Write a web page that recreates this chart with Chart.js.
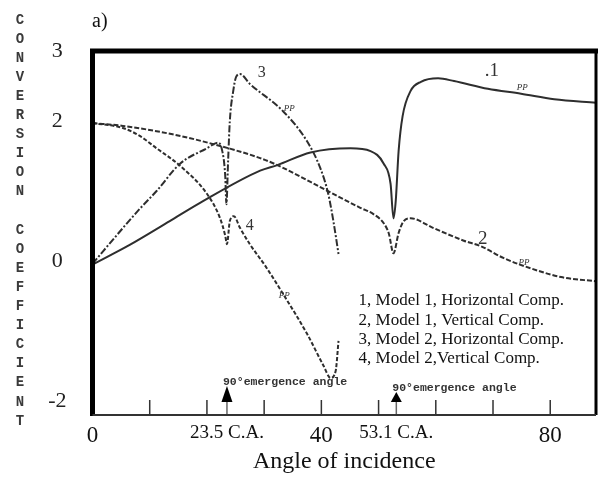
<!DOCTYPE html>
<html>
<head>
<meta charset="utf-8">
<script src="https://cdn.jsdelivr.net/npm/chart.js@4"></script>
<style>
  html, body { margin: 0; padding: 0; background: #fff; }
  #wrap { width: 598px; height: 483px; }
</style>
</head>
<body>
<div id="wrap"><canvas id="chart"></canvas></div>
<script>
// angle of incidence (deg) / conversion coefficient
const m1HorizAngle = [0, 6.5, 13.5, 18.8, 29.3, 32.3, 38.1, 45.1, 48.6, 50.9, 52.1, 52.6, 53.0, 53.5, 54.2, 55.6, 57.4, 60.4, 63.2, 69.1, 74.9, 80.7, 88];
const m1HorizCoef  = [-0.05, 0.23, 0.57, 0.83, 1.29, 1.37, 1.55, 1.61, 1.57, 1.39, 1.10, 0.61, 0.86, 1.57, 2.07, 2.43, 2.56, 2.61, 2.57, 2.46, 2.39, 2.31, 2.26];

const m1VertAngle = [0, 5.3, 14.0, 21.1, 29.3, 32.3, 41.1, 46.8, 49.1, 50.9, 51.8, 52.6, 53.5, 54.4, 55.6, 59.6, 64.9, 67.9, 71.9, 77.9, 81.9, 88];
const m1VertCoef  = [1.97, 1.93, 1.81, 1.67, 1.47, 1.37, 1.00, 0.76, 0.67, 0.54, 0.39, 0.11, 0.40, 0.57, 0.61, 0.47, 0.29, 0.21, 0.04, -0.14, -0.23, -0.29];

const m2HorizAngle = [0, 5.3, 8.2, 11.2, 15.3, 20.0, 21.9, 22.6, 23.2, 23.4, 23.7, 24.0, 24.6, 25.1, 25.8, 27.5, 33.3, 37.5, 39.8, 41.2, 42.1, 43.0];
const m2HorizCoef  = [-0.04, 0.47, 0.74, 1.00, 1.39, 1.61, 1.69, 1.60, 1.21, 0.81, 1.43, 2.00, 2.43, 2.63, 2.67, 2.53, 2.14, 1.71, 1.33, 0.96, 0.57, 0.10];

const m2VertAngle = [0, 5.3, 8.2, 11.2, 15.3, 20.0, 22.3, 23.2, 23.5, 24.0, 24.7, 25.8, 27.5, 30.2, 33.3, 37.5, 40.4, 41.6, 42.5, 43.0];
const m2VertCoef  = [1.97, 1.90, 1.79, 1.61, 1.36, 0.96, 0.61, 0.36, 0.24, 0.57, 0.64, 0.47, 0.24, -0.07, -0.47, -1.04, -1.50, -1.67, -1.57, -1.14];

const yTickValues = [-2, 0, 2, 3];
const xLabelValues = [0, 23.5, 40, 53.1, 80];
const xTickMarks = [10, 20, 30, 40, 50, 60, 70, 80];
const criticalAngles = [23.5, 53.1];
const legendLines = [
  '1, Model 1, Horizontal Comp.',
  '2, Model 1, Vertical Comp.',
  '3, Model 2, Horizontal Comp.',
  '4, Model 2,Vertical Comp.'
];
// curve tags: [angle, coefficient, text]
const curveTags = [[69.8, 2.71, '.1'], [29.6, 2.69, '3'], [27.5, 0.50, '4'], [68.2, 0.31, '2']];
const ppTags = [[75.1, 2.47], [34.4, 2.17], [33.5, -0.50], [75.4, -0.03]];

const SERIF = '"Liberation Serif", "DejaVu Serif", serif';
const INK = '#2e2e2e';

function pts(xs, ys) {
  return xs.map((v, i) => ({ x: v, y: ys[i] }));
}

function lineSet(label, xs, ys, dash) {
  return {
    label,
    data: pts(xs, ys),
    borderColor: INK,
    borderWidth: 2,
    borderDash: dash,
    pointRadius: 0,
    fill: false,
    cubicInterpolationMode: 'monotone'
  };
}

const decor = {
  id: 'decor',
  afterDraw(chart) {
    const { ctx, chartArea: a, scales: { x, y } } = chart;
    ctx.save();

    // small tick marks standing up from the bottom axis
    ctx.strokeStyle = '#333';
    ctx.lineWidth = 1.5;
    xTickMarks.forEach(v => {
      const px = x.getPixelForValue(v);
      ctx.beginPath();
      ctx.moveTo(px, a.bottom);
      ctx.lineTo(px, a.bottom - 15);
      ctx.stroke();
    });

    // arrows at the critical angles + "90° emergence angle" labels
    criticalAngles.forEach((v, i) => {
      const px = x.getPixelForValue(v);
      ctx.strokeStyle = '#666';
      ctx.lineWidth = 1.5;
      ctx.beginPath();
      ctx.moveTo(px, a.bottom);
      ctx.lineTo(px, a.bottom - 14);
      ctx.stroke();
      ctx.fillStyle = '#000';
      ctx.beginPath();
      ctx.moveTo(px, a.bottom - (i ? 23 : 29));
      ctx.lineTo(px - 5.5, a.bottom - 13);
      ctx.lineTo(px + 5.5, a.bottom - 13);
      ctx.closePath();
      ctx.fill();

      ctx.fillStyle = '#333';
      ctx.font = 'bold 11.5px "Liberation Mono", monospace';
      ctx.textBaseline = 'middle';
      ctx.textAlign = 'left';
      ctx.fillText('90°emergence angle', px - 4, a.bottom - (i ? 27 : 33));
    });

    // frame: heavy top / left, lighter right / bottom
    ctx.strokeStyle = '#000';
    ctx.lineWidth = 5;
    ctx.beginPath();
    ctx.moveTo(a.left - 2.5, a.top);
    ctx.lineTo(a.right + 2, a.top);
    ctx.moveTo(a.left, a.top);
    ctx.lineTo(a.left, a.bottom + 1);
    ctx.stroke();
    ctx.lineWidth = 3;
    ctx.beginPath();
    ctx.moveTo(a.right, a.top);
    ctx.lineTo(a.right, a.bottom);
    ctx.stroke();
    ctx.strokeStyle = '#333';
    ctx.lineWidth = 2;
    ctx.beginPath();
    ctx.moveTo(a.left, a.bottom);
    ctx.lineTo(a.right, a.bottom);
    ctx.stroke();

    // curve numbers and "PP" tags
    ctx.fillStyle = '#333';
    ctx.textAlign = 'center';
    ctx.textBaseline = 'middle';
    curveTags.forEach(([cx, cy, t]) => {
      ctx.font = (t === '2' || t === '.1' ? '19px ' : '16px ') + SERIF;
      ctx.fillText(t, x.getPixelForValue(cx), y.getPixelForValue(cy));
    });
    ctx.font = 'italic 9px ' + SERIF;
    ppTags.forEach(([cx, cy]) => {
      ctx.fillText('PP', x.getPixelForValue(cx), y.getPixelForValue(cy));
    });

    // model legend inside the plot
    ctx.fillStyle = '#111';
    ctx.font = '17px ' + SERIF;
    ctx.textAlign = 'left';
    const lx = x.getPixelForValue(46.5);
    const ly = y.getPixelForValue(-0.57);
    legendLines.forEach((t, i) => ctx.fillText(t, lx, ly + i * 19.3));

    // panel tag
    ctx.fillStyle = '#111';
    ctx.font = '20px ' + SERIF;
    ctx.fillText('a)', 92, 22);

    // stacked vertical axis title
    ctx.fillStyle = '#3a3a3a';
    ctx.font = 'bold 14px "Liberation Mono", monospace';
    ctx.textAlign = 'center';
    const title = 'CONVERSION COEFFICIENT';
    for (let i = 0; i < title.length; i++) {
      ctx.fillText(title[i], 20, 20 + i * 19.1);
    }
    ctx.restore();
  }
};

new Chart(document.getElementById('chart'), {
  type: 'line',
  data: {
    datasets: [
      lineSet('1', m1HorizAngle, m1HorizCoef, []),
      lineSet('2', m1VertAngle, m1VertCoef, [5, 2]),
      lineSet('3', m2HorizAngle, m2HorizCoef, [7, 2, 2, 2]),
      lineSet('4', m2VertAngle, m2VertCoef, [4, 2])
    ]
  },
  options: {
    responsive: true,
    maintainAspectRatio: false,
    animation: false,
    layout: { padding: { left: 48.5, top: 51, right: 2, bottom: 4 } },
    plugins: { legend: { display: false }, tooltip: { enabled: false } },
    scales: {
      x: {
        type: 'linear',
        min: 0,
        max: 88,
        grid: { display: false, drawTicks: false },
        border: { display: false },
        afterBuildTicks: s => { s.ticks = xLabelValues.map(v => ({ value: v })); },
        afterFit: s => { s.height = 64; },
        ticks: {
          padding: 7,
          maxRotation: 0,
          color: '#111',
          callback: v => (Number.isInteger(v) ? String(v) : v + ' C.A.'),
          font: c => ({ family: SERIF, size: c.tick && !Number.isInteger(c.tick.value) ? 19 : 23 })
        },
        title: {
          display: true,
          text: 'Angle of incidence',
          color: '#111',
          font: { family: SERIF, size: 24 },
          padding: { top: 2, bottom: 3 }
        }
      },
      y: {
        min: -2.2,
        max: 3,
        grid: { display: false, drawTicks: false },
        border: { display: false },
        afterBuildTicks: s => { s.ticks = yTickValues.map(v => ({ value: v })); },
        afterFit: s => { s.width = 44; },
        ticks: {
          padding: 26,
          crossAlign: 'center',
          color: '#222',
          font: { family: SERIF, size: 22 }
        }
      }
    }
  },
  plugins: [decor]
});
</script>
</body>
</html>
